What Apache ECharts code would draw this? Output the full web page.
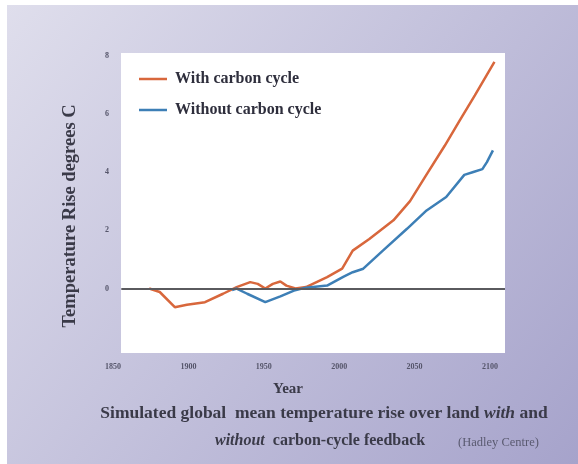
<!DOCTYPE html>
<html><head><meta charset="utf-8">
<script src="https://cdn.jsdelivr.net/npm/echarts@6/dist/echarts.min.js"></script>
<style>html,body{margin:0;padding:0;background:#fff}#c{width:578px;height:464px}</style>
</head><body><div id="c"></div>
<script>
const xTicks = [1850, 1900, 1950, 2000, 2050, 2100];
const yTicks = [0, 2, 4, 6, 8];
const withYears = [1874,1881,1891,1899,1911,1923,1932,1941,1946,1951,1956,1961,1965,1971,1978,1992,2002,2009,2020,2036,2047,2057,2070,2080,2090,2103];
const withVals  = [0,-0.12,-0.64,-0.56,-0.47,-0.18,0.05,0.22,0.16,0,0.16,0.24,0.1,0,0.05,0.39,0.68,1.3,1.7,2.34,3.0,3.83,4.9,5.77,6.63,7.78];
const withoutYears = [1929,1932,1939,1951,1961,1970,1978,1992,2003,2009,2016,2029,2045,2058,2071,2083,2089,2095,2098,2102];
const withoutVals  = [-0.05,0,-0.18,-0.47,-0.27,-0.07,0.03,0.1,0.41,0.56,0.68,1.3,2.05,2.68,3.14,3.9,4.0,4.1,4.34,4.74];
const zeroLineYears = [1855.5, 2110];
const seriesNames = ['With carbon cycle', 'Without carbon cycle'];

const serif = '"Liberation Serif", "DejaVu Serif", serif';
const chart = echarts.init(document.getElementById('c'), null, {renderer: 'canvas'});
const pair = (xs, ys) => xs.map((x, i) => [x, ys[i]]);

chart.setOption({
  animation: false,
  grid: {left: 113, right: 73, top: 54, bottom: 111.4},
  graphic: [
    {type: 'rect', z: -10, shape: {x: 7, y: 5, width: 571, height: 459},
     style: {fill: new echarts.graphic.LinearGradient(0, 0, 1, 1, [
       {offset: 0, color: '#dfdeec'}, {offset: 1, color: '#a6a3cb'}])}},
    {type: 'rect', z: -9, shape: {x: 121, y: 53, width: 384, height: 300}, style: {fill: '#ffffff'}},
    {type: 'text', z: 5, x: 70, y: 216, rotation: Math.PI / 2,
     style: {text: 'Temperature Rise degrees C', font: 'bold 18.5px ' + serif, fill: '#3a3a48', align: 'center', verticalAlign: 'middle'}},
    {type: 'text', z: 5, x: 288, y: 389, style: {text: 'Year', font: 'bold 15px ' + serif, fill: '#3a3a48', align: 'center', verticalAlign: 'middle'}},
    {type: 'text', z: 5, x: 324, y: 413, style: {
      text: '{n|Simulated global  mean temperature rise over land }{i|with}{n| and}',
      align: 'center', verticalAlign: 'middle',
      rich: {n: {font: 'bold 17.5px ' + serif, fill: '#3a3a48'}, i: {font: 'italic bold 17.5px ' + serif, fill: '#3a3a48'}}}},
    {type: 'text', z: 5, x: 215, y: 441, style: {
      text: '{i|without}{n|  carbon-cycle feedback}',
      align: 'left', verticalAlign: 'middle',
      rich: {n: {font: 'bold 16px ' + serif, fill: '#3a3a48'}, i: {font: 'italic bold 16px ' + serif, fill: '#3a3a48'}}}},
    {type: 'text', z: 5, x: 458, y: 443, style: {text: '(Hadley Centre)', font: '12.5px ' + serif, fill: '#5a5a70', align: 'left', verticalAlign: 'middle'}}
  ],
  legend: {
    show: true, orient: 'vertical', left: 134, top: 66, itemGap: 15,
    itemWidth: 28, itemHeight: 14,
    data: seriesNames.map(n => ({name: n, icon: 'path://M0,6 L28,6 L28,8.5 L0,8.5 Z'})),
    textStyle: {fontFamily: serif, fontWeight: 'bold', fontSize: 16, color: '#2e2e3c', padding: [0, 0, 0, 3]}
  },
  xAxis: {
    type: 'value', min: 1850, max: 2110,
    axisLine: {show: false}, axisTick: {show: false}, splitLine: {show: false},
    axisLabel: {customValues: xTicks, formatter: v => String(v), margin: 10, fontFamily: serif, fontWeight: 'bold', fontSize: 8, color: '#55556a'}
  },
  yAxis: {
    type: 'value', min: -2.2, max: 8.05,
    axisLine: {show: false}, axisTick: {show: false}, splitLine: {show: false},
    axisLabel: {customValues: yTicks, margin: 4, fontFamily: serif, fontWeight: 'bold', fontSize: 8, color: '#55556a'}
  },
  series: [
    {name: seriesNames[0], type: 'line', data: pair(withYears, withVals), showSymbol: false,
     lineStyle: {color: '#d8673c', width: 2.5}, itemStyle: {color: '#d8673c'}, z: 3,
     markLine: {silent: true, symbol: 'none', label: {show: false},
       lineStyle: {color: '#5a5a5e', width: 2, type: 'solid'},
       data: [[{coord: [zeroLineYears[0], 0]}, {coord: [zeroLineYears[1], 0]}]]}},
    {name: seriesNames[1], type: 'line', data: pair(withoutYears, withoutVals), showSymbol: false,
     lineStyle: {color: '#3d7fb6', width: 2.5}, itemStyle: {color: '#3d7fb6'}, z: 4}
  ]
});
</script></body></html>
